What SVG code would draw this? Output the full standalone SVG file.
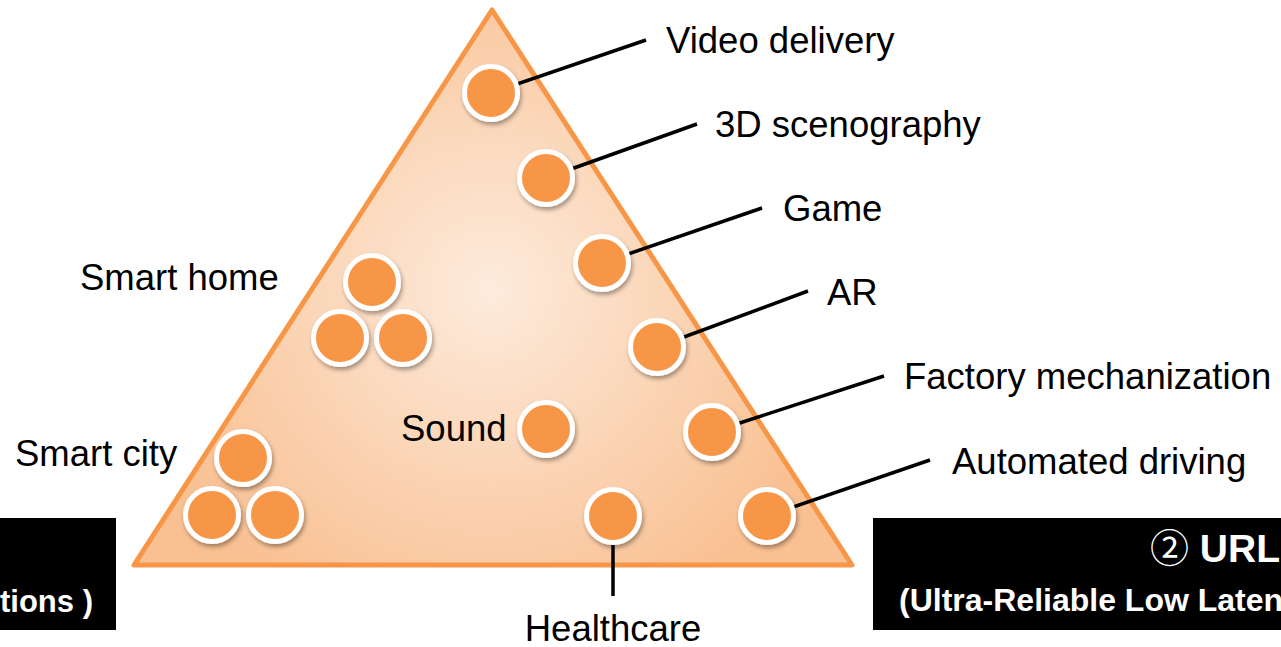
<svg xmlns="http://www.w3.org/2000/svg" width="1281" height="647" viewBox="0 0 1281 647">
<style>
.lbl{font-family:"Liberation Sans",Arial,sans-serif;font-size:36.5px;fill:#000}
.box{fill:#000}
.bt{font-family:"Liberation Sans",Arial,"DejaVu Sans",sans-serif;font-weight:bold;fill:#fff}
.cj{font-family:"Noto Sans CJK JP","Noto Sans CJK SC",sans-serif;font-weight:normal}
.con{stroke:#000;stroke-width:3.5;fill:none}
.dot{fill:#F79646;stroke:#fff;stroke-width:5;filter:url(#sh)}
</style>
<defs>
<radialGradient id="g" gradientUnits="userSpaceOnUse" cx="490" cy="290" r="360">
<stop offset="0" stop-color="#FDEBDC"/>
<stop offset="1" stop-color="#F9C092"/>
</radialGradient>
<filter id="sh" x="-30%" y="-30%" width="170%" height="170%">
<feDropShadow dx="1.5" dy="3" stdDeviation="2" flood-color="#000" flood-opacity="0.35"/>
</filter>
</defs>
<rect width="1281" height="647" fill="#fff"/>
<g id="triangle">
<polygon points="492,10 852,565 134,565" fill="url(#g)" stroke="#F79646" stroke-width="5" stroke-linejoin="round"/>
</g>
<g id="box-left">
<rect class="box" x="-2" y="518" width="118" height="112"/>
<text class="bt" x="93" y="612" font-size="31" text-anchor="end">tions )</text>
</g>
<g id="box-right">
<rect class="box" x="873" y="518" width="410" height="112"/>
<text class="bt" x="1150" y="562" font-size="39"><tspan class="cj">②</tspan> URL</text>
<text class="bt" x="899" y="611" font-size="32">(Ultra-Reliable Low Laten</text>
</g>
<g id="connectors">
<line class="con" x1="491" y1="93" x2="646" y2="40"/>
<line class="con" x1="546" y1="178" x2="697" y2="124"/>
<line class="con" x1="602" y1="263" x2="762" y2="208"/>
<line class="con" x1="657" y1="347" x2="808" y2="291"/>
<line class="con" x1="712" y1="432" x2="884" y2="376"/>
<line class="con" x1="767" y1="516" x2="930" y2="460"/>
<line class="con" x1="613" y1="516" x2="613" y2="596"/>
</g>
<g id="video-delivery"><circle class="dot" cx="491" cy="93" r="26.5"/><text class="lbl" x="666" y="53">Video delivery</text></g>
<g id="scenography"><circle class="dot" cx="546" cy="178" r="26.5"/><text class="lbl" x="715" y="137">3D scenography</text></g>
<g id="game"><circle class="dot" cx="602" cy="263" r="26.5"/><text class="lbl" x="783" y="221">Game</text></g>
<g id="ar"><circle class="dot" cx="657" cy="347" r="26.5"/><text class="lbl" x="827" y="305">AR</text></g>
<g id="factory"><circle class="dot" cx="712" cy="432" r="26.5"/><text class="lbl" x="904" y="389">Factory mechanization</text></g>
<g id="automated-driving"><circle class="dot" cx="767" cy="516" r="26.5"/><text class="lbl" x="952" y="474">Automated driving</text></g>
<g id="healthcare"><circle class="dot" cx="613" cy="516" r="26.5"/><text class="lbl" x="613" y="641" text-anchor="middle">Healthcare</text></g>
<g id="sound"><circle class="dot" cx="546" cy="429" r="26.5"/><text class="lbl" x="401" y="441">Sound</text></g>
<g id="smart-home">
<circle class="dot" cx="372" cy="282" r="26.5"/>
<circle class="dot" cx="340" cy="338" r="26.5"/>
<circle class="dot" cx="403" cy="338" r="26.5"/>
<text class="lbl" x="80" y="290">Smart home</text>
</g>
<g id="smart-city">
<circle class="dot" cx="243" cy="458" r="26.5"/>
<circle class="dot" cx="212" cy="515" r="26.5"/>
<circle class="dot" cx="275" cy="515" r="26.5"/>
<text class="lbl" x="15" y="466">Smart city</text>
</g>
</svg>
